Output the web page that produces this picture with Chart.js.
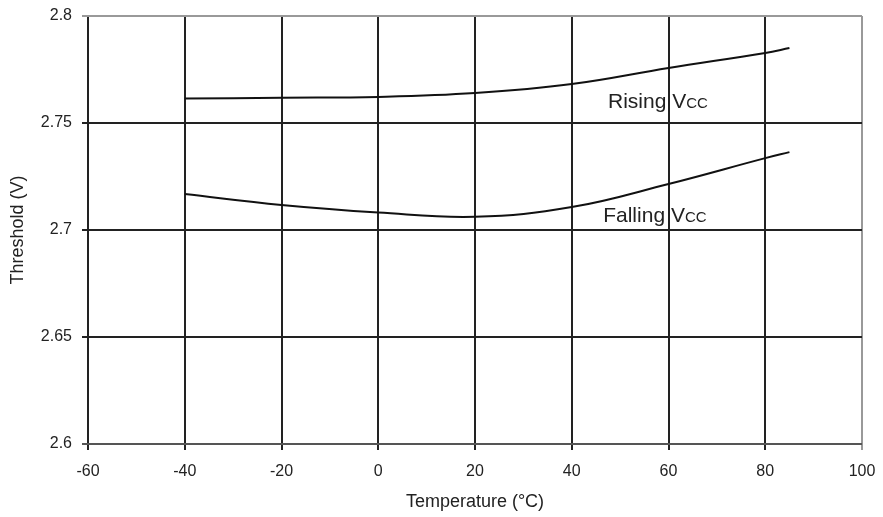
<!DOCTYPE html>
<html>
<head>
<meta charset="utf-8">
<script src="https://cdn.jsdelivr.net/npm/chart.js@4/dist/chart.umd.min.js"></script>
<style>
html,body{margin:0;padding:0;background:#fff;}
#wrap{width:883px;height:517px;}
</style>
</head>
<body>
<div id="wrap"><canvas id="c" width="883" height="517"></canvas></div>
<script>
const temps = [-40, -20, 0, 20, 40, 60, 80, 85];
const risingVcc = [2.7614, 2.7618, 2.7622, 2.7640, 2.7682, 2.7757, 2.7827, 2.7850];
const fallingVcc = [2.7168, 2.7117, 2.7082, 2.7062, 2.7107, 2.7215, 2.7336, 2.7364];
const xTicks = [-60, -40, -20, 0, 20, 40, 60, 80, 100];
const yTicks = [2.6, 2.65, 2.7, 2.75, 2.8];
const seriesLabels = [
  {name: 'Rising V', sub: 'CC', x: 47.5, y: 2.7570},
  {name: 'Falling V', sub: 'CC', x: 46.5, y: 2.7037}
];

const toPts = (xs, ys) => xs.map((x, i) => ({x: x, y: ys[i]}));
const FONT = "'Liberation Sans', Arial, sans-serif";

const labelPlugin = {
  id: 'seriesLabels',
  afterDatasetsDraw(chart) {
    const ctx = chart.ctx;
    const xs = chart.scales.x, ys = chart.scales.y;
    ctx.save();
    ctx.fillStyle = '#222';
    ctx.textBaseline = 'alphabetic';
    ctx.textAlign = 'left';
    seriesLabels.forEach(l => {
      const px = xs.getPixelForValue(l.x);
      const py = ys.getPixelForValue(l.y);
      ctx.font = '21px ' + FONT;
      const w = ctx.measureText(l.name).width;
      ctx.fillText(l.name, px, py);
      ctx.font = '15px ' + FONT;
      ctx.fillText(l.sub, px + w, py);
    });
    ctx.restore();
  }
};

new Chart(document.getElementById('c'), {
  type: 'scatter',
  data: {
    datasets: [
      {label: 'Rising VCC', data: toPts(temps, risingVcc), showLine: true, borderColor: '#111', borderWidth: 2, pointRadius: 0, tension: 0.4, fill: false},
      {label: 'Falling VCC', data: toPts(temps, fallingVcc), showLine: true, borderColor: '#111', borderWidth: 2, pointRadius: 0, tension: 0.4, fill: false}
    ]
  },
  options: {
    responsive: false,
    animation: false,
    devicePixelRatio: 1,
    layout: {padding: {top: 16, right: 21, left: 0, bottom: 0}},
    plugins: {legend: {display: false}, tooltip: {enabled: false}},
    scales: {
      x: {
        type: 'linear', min: -60, max: 100,
        afterBuildTicks: s => { s.ticks = xTicks.map(v => ({value: v})); },
        afterFit: s => { s.height = 73; s.paddingLeft = 0; s.paddingRight = 0; },
        ticks: {color: '#222', font: {family: FONT, size: 16}, padding: 12, maxRotation: 0},
        grid: {
          color: c => (c.tick && c.tick.value === 100) ? '#999' : '#222',
          lineWidth: 2, tickLength: 6, drawTicks: true
        },
        border: {display: false},
        title: {display: true, text: 'Temperature (°C)', color: '#222', font: {family: FONT, size: 18}, padding: {top: 0, bottom: 4}}
      },
      y: {
        type: 'linear', min: 2.6, max: 2.8,
        afterBuildTicks: s => { s.ticks = yTicks.map(v => ({value: v})); },
        afterFit: s => { s.width = 88; s.paddingTop = 0; s.paddingBottom = 0; },
        ticks: {color: '#222', font: {family: FONT, size: 16}, padding: 10, callback: v => String(Number(v.toFixed(2)))},
        grid: {
          color: c => (c.tick && c.tick.value === 2.8) ? '#999' : (c.tick && c.tick.value === 2.6 ? '#555' : '#222'),
          lineWidth: 2, tickLength: 6
        },
        border: {display: false},
        title: {display: true, text: 'Threshold (V)', color: '#222', font: {family: FONT, size: 18}, padding: {top: 7, bottom: 0}}
      }
    }
  },
  plugins: [labelPlugin]
});
</script>
</body>
</html>
